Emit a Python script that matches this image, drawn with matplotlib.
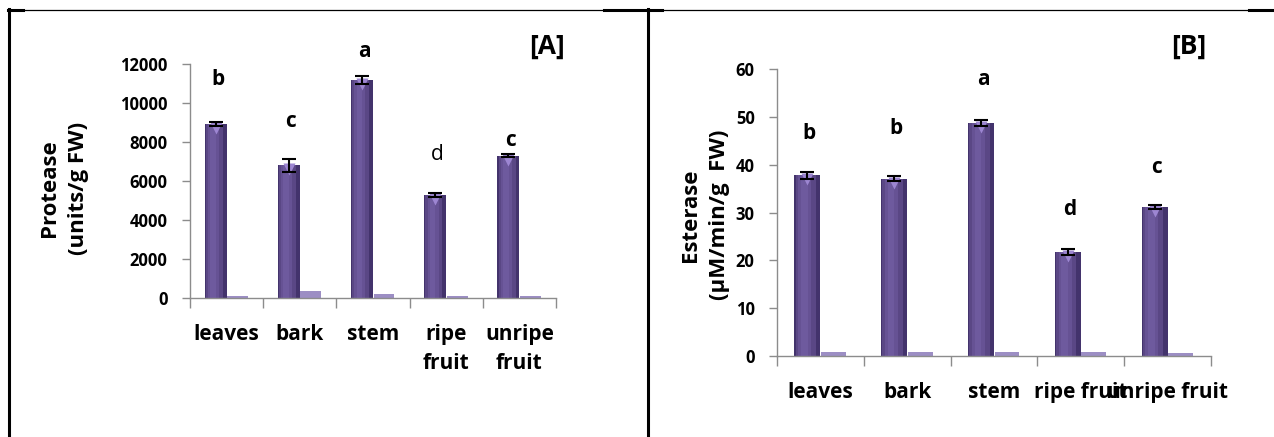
import numpy as np
import matplotlib.pyplot as plt
import matplotlib.transforms as mtransforms
from matplotlib.lines import Line2D
from matplotlib.ticker import FixedLocator, MultipleLocator

plt.rcParams['font.family'] = ['Open Sans', 'DejaVu Sans']
plt.rcParams['font.weight'] = 'bold'

# ---- data ----
tissues_a = ['leaves', 'bark', 'stem', 'ripe\nfruit', 'unripe\nfruit']
protease = [8920, 6800, 11200, 5300, 7300]
protease_err = [120, 330, 200, 110, 80]
protease_low = [120, 340, 200, 120, 80]
protease_sig = ['b', 'c', 'a', 'd', 'c']

tissues_b = ['leaves', 'bark', 'stem', 'ripe fruit', 'unripe fruit']
esterase = [37.8, 37.1, 48.7, 21.7, 31.1]
esterase_err = [0.75, 0.6, 0.65, 0.6, 0.4]
esterase_low = [0.9, 0.8, 0.9, 0.9, 0.7]
esterase_sig = ['b', 'b', 'a', 'd', 'c']

W, H = 1274, 437
AXIS_GREY = '#8c8c8c'


def draw_panel(ax, labels, vals, errs, low, sig, sig_offsets, sig_weights):
    x = np.arange(len(labels))
    w = 0.30
    xm = x - w / 2
    xs = x + w / 2
    # main series as a shaded cylinder
    ax.bar(xm, vals, w, color='#43336c', zorder=2)
    ax.bar(xm - w * 0.06, vals, w * 0.78, color='#5a4785', zorder=2)
    ax.bar(xm - w * 0.10, vals, w * 0.50, color='#665294', zorder=2)
    ax.bar(xm - w * 0.12, vals, w * 0.25, color='#6e5a9e', zorder=2)
    top = mtransforms.offset_copy(ax.transData, fig=ax.figure, y=-4, units='dots')
    ax.plot(xm, vals, 'v', ms=9, color='#9d86d2', mec='none', transform=top, zorder=3)
    ax.errorbar(xm, vals, yerr=errs, fmt='none', ecolor='black', elinewidth=1.5,
                capsize=5, capthick=1.5, zorder=4)
    # second series (small values)
    ax.bar(xs, low, w * 0.95, color='#9c8ec4', zorder=2)

    for xi, v, s, off, fw in zip(xm, vals, sig, sig_offsets, sig_weights):
        ax.annotate(s, (xi, v), xytext=(2, off), textcoords='offset pixels',
                    ha='center', va='center', fontsize=15, fontweight=fw,
                    annotation_clip=False)

    ax.set_xlim(-0.5, len(labels) - 0.5)
    ax.set_xticks(x)
    ax.set_xticklabels(labels, fontsize=15, linespacing=1.45)
    ax.xaxis.set_minor_locator(FixedLocator(np.arange(len(labels) + 1) - 0.5))
    ax.tick_params(axis='x', which='major', length=0, pad=19)
    ax.tick_params(axis='x', which='minor', length=7, color=AXIS_GREY, width=1, direction='out')
    ax.tick_params(axis='y', length=6, color=AXIS_GREY, width=1, labelsize=12, pad=10)
    for s in ['top', 'right']:
        ax.spines[s].set_visible(False)
    for s in ['left', 'bottom']:
        ax.spines[s].set_color(AXIS_GREY)
        ax.spines[s].set_linewidth(1)


fig = plt.figure(figsize=(W / 100, H / 100), dpi=100)

ax_a = fig.add_axes([190 / W, 1 - 298 / H, 366 / W, 234 / H])
ax_a.set_ylim(0, 12000)
ax_a.yaxis.set_major_locator(MultipleLocator(2000))
draw_panel(ax_a, tissues_a, protease, protease_err, protease_low, protease_sig,
           [45, 44, 28, 40, 15], ['bold', 'bold', 'bold', 'normal', 'bold'])

ax_b = fig.add_axes([777 / W, 1 - 356 / H, 434 / W, 287 / H])
ax_b.set_ylim(0, 60)
ax_b.yaxis.set_major_locator(MultipleLocator(10))
draw_panel(ax_b, tissues_b, esterase, esterase_err, esterase_low, esterase_sig,
           [42, 50, 44, 43, 40], ['bold'] * 5)

fig.text(547 / W, 1 - 46 / H, '[A]', ha='center', va='center', fontsize=19, fontweight='bold')
fig.text(1189 / W, 1 - 46 / H, '[B]', ha='center', va='center', fontsize=19, fontweight='bold')

fig.text(64 / W, 1 - 188 / H, 'Protease\n(units/g FW)', rotation=90, ha='center',
         va='center', fontsize=16, fontweight='bold', linespacing=1.45)
fig.text(705 / W, 1 - 215 / H, 'Esterase\n(\u00b5M/min/g  FW)', rotation=90, ha='center',
         va='center', fontsize=16, fontweight='bold', linespacing=1.45)

# table borders around the two panels
def fig_line(x0, y0, x1, y1, lw):
    fig.add_artist(Line2D([x0 / W, x1 / W], [1 - y0 / H, 1 - y1 / H], color='black',
                          lw=lw, transform=fig.transFigure))

fig_line(8, 10, W, 10, 0.9)
fig_line(8, 10, 23, 10, 2.2)
fig_line(604, 10, 662, 10, 2.2)
fig_line(1249, 10, W, 10, 2.2)
fig_line(8.5, 9, 8.5, H, 2.2)
fig_line(648, 9, 648, H, 2.2)

fig.savefig('out.png', dpi=100)
